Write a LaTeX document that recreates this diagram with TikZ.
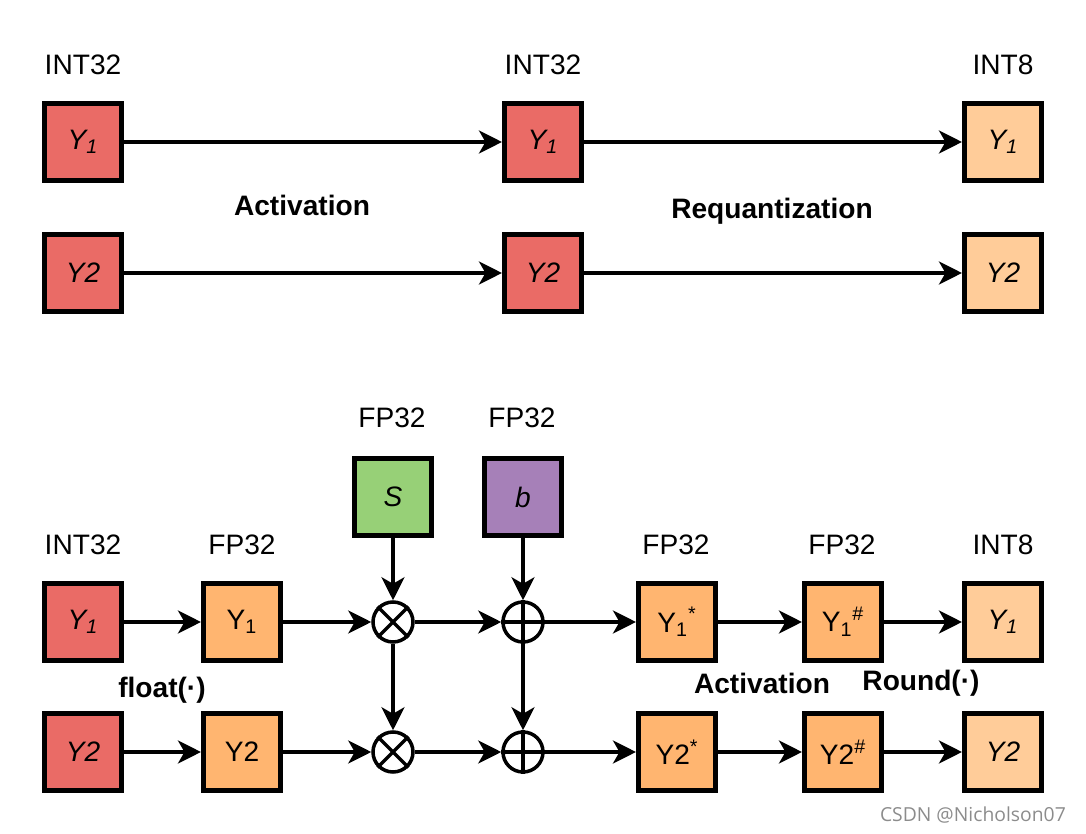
\documentclass[tikz,border=0pt]{standalone}
\usepackage{fontspec}
\setmainfont{Liberation Sans}
\newfontfamily\markfont{Open Sans}
\usetikzlibrary{arrows.meta}

\definecolor{intred}{HTML}{EA6B66}
\definecolor{fporange}{HTML}{FFB570}
\definecolor{outpeach}{HTML}{FFCC99}
\definecolor{scalegreen}{HTML}{97D077}
\definecolor{biaspurple}{HTML}{A680B8}

\tikzset{
  box/.style={draw, line width=2.6pt, minimum size=1.55cm, inner sep=0pt},
  intbox/.style={box, fill=intred},
  fpbox/.style={box, fill=fporange},
  outbox/.style={box, fill=outpeach},
  opnode/.style={draw, circle, line width=2pt, minimum size=0.8cm, inner sep=0pt},
  flow/.style={line width=2pt, -{Stealth[length=0.46cm,width=0.46cm,inset=0.13cm]}},
  tag/.style={font=\bfseries\fontsize{16}{19}\selectfont}
}

\begin{document}
\begin{tikzpicture}[x=0.02cm, y=-0.02cm, font=\fontsize{16}{19}\selectfont]

\useasboundingbox (0,0) rectangle (1086,834);

% TOP: INT32 ACTIVATION %%%%%%%%%%%%%%%%%%%%%%%%%%%%%%%%%%%%%%%%%%%%%%%%%%%

\node (L11) at (83,65) {INT32};
\node (L12) at (543,65) {INT32};
\node (L13) at (1003,65) {INT8};

\node[intbox] (T11) at (83,142) {\textit{Y\textsubscript{1}}};
\node[intbox] (T12) at (543,142) {\textit{Y\textsubscript{1}}};
\node[outbox] (T13) at (1003,142) {\textit{Y\textsubscript{1}}};

\node[intbox] (T21) at (83,273) {\textit{Y2}};
\node[intbox] (T22) at (543,273) {\textit{Y2}};
\node[outbox] (T23) at (1003,273) {\textit{Y2}};

\node[tag] (ACT1) at (302,205) {Activation};
\node[tag] (REQ) at (772,211) {Requantization};

\draw[flow] (T11) -- (T12);
\draw[flow] (T12) -- (T13);
\draw[flow] (T21) -- (T22);
\draw[flow] (T22) -- (T23);

% BOTTOM: FP32 PATH %%%%%%%%%%%%%%%%%%%%%%%%%%%%%%%%%%%%%%%%%%%%%%%%%%%%%%

\node (LS) at (392,418) {FP32};
\node (LB) at (522,418) {FP32};
\node[box, fill=scalegreen] (S) at (393,497) {\textit{S}};
\node[box, fill=biaspurple] (Bias) at (523,497) {\textit{b}};

\node (L21) at (83,545) {INT32};
\node (L22) at (242,545) {FP32};
\node (L23) at (676,545) {FP32};
\node (L24) at (842,545) {FP32};
\node (L25) at (1003,545) {INT8};

\node[intbox] (B11) at (83,622) {\textit{Y\textsubscript{1}}};
\node[fpbox] (B12) at (242,622) {Y\textsubscript{1}};
\node[opnode] (M1) at (393,622) {};
\node[opnode] (A1) at (523,622) {};
\node[fpbox] (B13) at (677,622) {Y\textsubscript{1}\textsuperscript{*}};
\node[fpbox] (B14) at (843,622) {Y\textsubscript{1}\textsuperscript{\#}};
\node[outbox] (B15) at (1003,622) {\textit{Y\textsubscript{1}}};

\node[intbox] (B21) at (83,752) {\textit{Y2}};
\node[fpbox] (B22) at (242,752) {Y2};
\node[opnode] (M2) at (393,752) {};
\node[opnode] (A2) at (523,752) {};
\node[fpbox] (B23) at (677,752) {Y2\textsuperscript{*}};
\node[fpbox] (B24) at (843,752) {Y2\textsuperscript{\#}};
\node[outbox] (B25) at (1003,752) {\textit{Y2}};

% operator marks
\draw[line width=2pt] (M1.north west) -- (M1.south east) (M1.north east) -- (M1.south west);
\draw[line width=2pt] (M2.north west) -- (M2.south east) (M2.north east) -- (M2.south west);
\draw[line width=2pt] (A1.north) -- (A1.south) (A1.west) -- (A1.east);
\draw[line width=2pt] (A2.north) -- (A2.south) (A2.west) -- (A2.east);

% LINKS %%%%%%%%%%%%%%%%%%%%%%%%%%%%%%%%%%%%%%%%%%%%%%%%%%%%%%%%%%%%%%%%%%

\draw[flow] (B11) -- (B12);
\draw[flow] (B12) -- (M1);
\draw[flow] (M1) -- (A1);
\draw[flow] (A1) -- (B13);
\draw[flow] (B13) -- (B14);
\draw[flow] (B14) -- (B15);

\draw[flow] (B21) -- (B22);
\draw[flow] (B22) -- (M2);
\draw[flow] (M2) -- (A2);
\draw[flow] (A2) -- (B23);
\draw[flow] (B23) -- (B24);
\draw[flow] (B24) -- (B25);

\draw[flow] (S) -- (M1);
\draw[flow] (M1) -- (M2);
\draw[flow] (Bias) -- (A1);
\draw[flow] (A1) -- (A2);

% LABELS
\node[tag] (FLT) at (162,690) {float(·)};
\node[tag] (ACT2) at (762,683) {Activation};
\node[tag] (RND) at (921,683) {Round(·)};

\node[text=black!45, font=\markfont\fontsize{11}{13}\selectfont, anchor=east] (CSDN) at (1072,815) {CSDN @Nicholson07};

\end{tikzpicture}
\end{document}
